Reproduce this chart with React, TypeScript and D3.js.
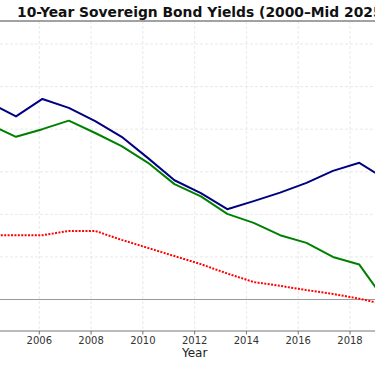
import React from 'react';
import * as d3 from 'd3';

// positions along the time axis (26 samples, 2000 → mid 2025)
const yearPos = [
  2000, 2001.02, 2002.04, 2003.06, 2004.08, 2005.1, 2006.12, 2007.14, 2008.16,
  2009.18, 2010.2, 2011.22, 2012.24, 2013.26, 2014.28, 2015.3, 2016.32, 2017.34,
  2018.36, 2019.38, 2020.4, 2021.42, 2022.44, 2023.46, 2024.48, 2025.5,
];

const usYields = [
  6.0, 5.0, 4.6, 4.0, 4.62, 4.3, 4.71, 4.5, 4.19, 3.82, 3.32, 2.8, 2.5, 2.12,
  2.31, 2.51, 2.74, 3.02, 3.21, 2.82, 0.9, 1.45, 2.95, 3.96, 4.2, 4.4,
];
const deYields = [
  5.3, 4.8, 4.8, 4.1, 4.11, 3.82, 4.0, 4.2, 3.91, 3.6, 3.21, 2.71, 2.42, 2.01,
  1.8, 1.51, 1.33, 1.0, 0.82, -0.05, -0.5, -0.3, 1.2, 2.4, 2.3, 2.6,
];
const jpYields = [
  1.7, 1.3, 1.3, 1.0, 1.51, 1.51, 1.51, 1.61, 1.61, 1.4, 1.21, 1.02, 0.83, 0.61,
  0.41, 0.32, 0.22, 0.13, 0.02, -0.12, 0.0, 0.07, 0.25, 0.6, 0.9, 1.4,
];

const xTicks = [2000, 2002, 2004, 2006, 2008, 2010, 2012, 2014, 2016, 2018, 2020, 2022, 2024, 2026];
const yTicks = [0, 1, 2, 3, 4, 5, 6];

const series = [
  { name: 'United States', values: usYields, color: '#000080', dash: undefined },
  { name: 'Germany', values: deYields, color: '#008000', dash: undefined },
  { name: 'Japan', values: jpYields, color: '#ff0000', dash: '2,1.4' },
];

const W = 375;
const H = 366;

const App: React.FC = () => {
  // the visible window shows only the middle of the plot area
  const x = d3.scaleLinear().domain([2006, 2018]).range([39.3, 350]);
  const y = d3.scaleLinear().domain([0, 6]).range([299.5, 44]);
  const top = y(6.54);
  const bottom = y(-0.74);

  const line = d3
    .line<number>()
    .x((_, i) => x(yearPos[i]))
    .y((d) => y(d));

  // only label the ticks that fall inside the window
  const shownTicks = xTicks.filter((t) => x(t) > 12 && x(t) < W - 12);

  return (
    <div style={{ position: 'fixed', left: 0, top: 0, width: W, height: H, background: '#fff', overflow: 'hidden' }}>
      <svg width={W} height={H} style={{ display: 'block', fontFamily: 'DejaVu Sans' }}>
        {/* grid */}
        {xTicks.map((t) => (
          <line
            key={'gx' + t}
            x1={x(t)}
            x2={x(t)}
            y1={top}
            y2={bottom}
            stroke="#e3e3e3"
            strokeWidth={0.8}
            strokeDasharray="3,2"
          />
        ))}
        {yTicks.map((t) => (
          <line
            key={'gy' + t}
            x1={0}
            x2={W}
            y1={y(t)}
            y2={y(t)}
            stroke="#e3e3e3"
            strokeWidth={0.8}
            strokeDasharray="3,2"
          />
        ))}

        {/* zero line */}
        <line x1={0} x2={W} y1={y(0)} y2={y(0)} stroke="#999" strokeWidth={1.2} />

        {series.map((s) => (
          <path
            key={s.name}
            d={line(s.values) || ''}
            fill="none"
            stroke={s.color}
            strokeWidth={2}
            strokeDasharray={s.dash}
            strokeLinejoin="round"
          />
        ))}

        {/* spines */}
        <line x1={0} x2={W} y1={top} y2={top} stroke="#444" strokeWidth={1} />
        <line x1={0} x2={W} y1={bottom} y2={bottom} stroke="#777" strokeWidth={1} />

        {shownTicks.map((t) => (
          <g key={'t' + t} transform={`translate(${x(t)},${bottom})`}>
            <line y1={0} y2={3.5} stroke="#555" strokeWidth={0.8} />
            <text y={13} textAnchor="middle" fontSize={10} fill="#333">
              {t}
            </text>
          </g>
        ))}

        <text x={x(2012)} y={356.5} textAnchor="middle" fontSize={12} fill="#222">
          Year
        </text>

        <text x={17} y={16.5} fontSize={13.85} fontWeight="bold" fill="#111">
          10-Year Sovereign Bond Yields (2000–Mid 2025)
        </text>
      </svg>
    </div>
  );
};

export default App;
